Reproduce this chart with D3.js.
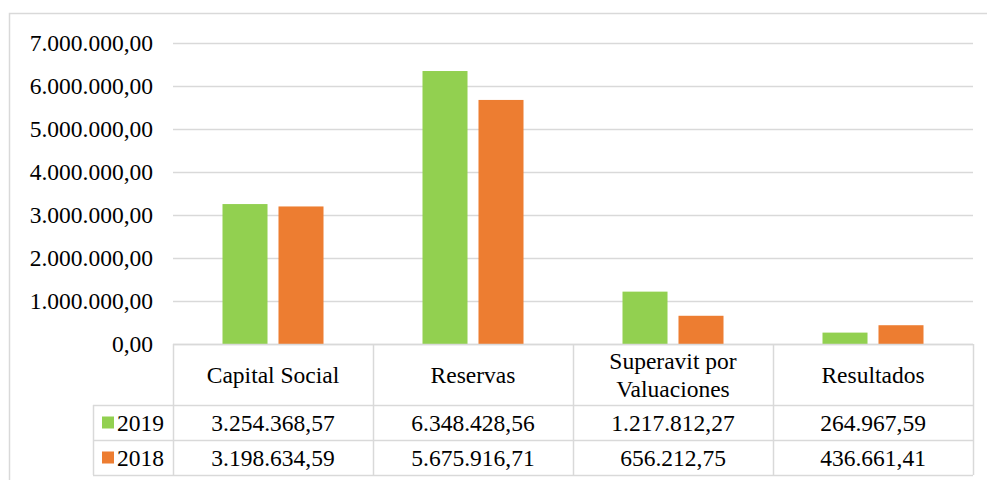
<!DOCTYPE html>
<html>
<head>
<meta charset="utf-8">
<script src="https://cdn.jsdelivr.net/npm/d3@7"></script>
<style>
  html, body { margin: 0; padding: 0; background: #fff; }
  svg { display: block; }
</style>
</head>
<body>
<div id="chart"></div>
<script>
// Patrimonio por rubro, 2019 vs 2018
const categories = ["Capital Social", "Reservas", "Superavit por Valuaciones", "Resultados"];
const categoryLines = [["Capital Social"], ["Reservas"], ["Superavit por", "Valuaciones"], ["Resultados"]];
const seriesNames = ["2019", "2018"];
const values2019 = [3254368.57, 6348428.56, 1217812.27, 264967.59];
const values2018 = [3198634.59, 5675916.71, 656212.75, 436661.41];
const yTicks = [0, 1000000, 2000000, 3000000, 4000000, 5000000, 6000000, 7000000];
const colors = ["#92D050", "#ED7D31"];

const W = 987, H = 480;
const fontSize = 23.5;
const fontFamily = "'Liberation Serif', 'Times New Roman', Times, serif";
const gridColor = "#D9D9D9";

// Spanish number format: "." thousands, "," decimals
const esLocale = d3.formatLocale({ decimal: ",", thousands: ".", grouping: [3], currency: ["", ""] });
const fmt = esLocale.format(",.2f");

const svg = d3.select("#chart").append("svg").attr("width", W).attr("height", H);

function label(sel) {
  return sel.style("font-family", fontFamily).style("font-size", fontSize + "px").style("fill", "#000");
}

// chart frame
svg.append("rect")
  .attr("x", 9.5).attr("y", 13.5).attr("width", W).attr("height", H)
  .attr("fill", "none").attr("stroke", gridColor).attr("stroke-width", 1.5);

const plot = { left: 173, right: 973, top: 43, bottom: 344 };
const x = d3.scaleBand().domain(categories).range([plot.left, plot.right]);
const y = d3.scaleLinear().domain([0, 7000000]).range([plot.bottom, plot.top]);
const inner = d3.scaleBand().domain(seriesNames).range([0, x.bandwidth()]).paddingInner(0.196).paddingOuter(0.884);

// gridlines
svg.append("g").selectAll("line").data(yTicks).join("line")
  .attr("x1", plot.left).attr("x2", plot.right)
  .attr("y1", d => Math.round(y(d)) + 0.5).attr("y2", d => Math.round(y(d)) + 0.5)
  .attr("stroke", gridColor).attr("stroke-width", 1.3);

// y axis labels
const yAxis = d3.axisLeft(y).tickValues(yTicks).tickFormat(fmt).tickSize(0).tickPadding(0);
const yg = svg.append("g").attr("transform", `translate(${plot.left - 20},0)`).call(yAxis);
yg.select(".domain").remove();
yg.attr("font-family", null).attr("font-size", null);
label(yg.selectAll("text"));

// bars
const seriesData = [values2019, values2018];
seriesData.forEach((vals, si) => {
  svg.append("g").selectAll("rect").data(categories).join("rect")
    .attr("x", (c) => x(c) + inner(seriesNames[si]))
    .attr("width", inner.bandwidth())
    .attr("y", (c, i) => y(vals[i]))
    .attr("height", (c, i) => y(0) - y(vals[i]))
    .attr("fill", colors[si]);
});

// data table
const rowTop = [plot.bottom, 405, 440, 475];
const legendLeft = 93;
const tbl = svg.append("g").attr("stroke", gridColor).attr("stroke-width", 1.5).attr("fill", "none");
tbl.append("line").attr("x1", plot.left).attr("x2", plot.right).attr("y1", rowTop[0] + 0.5).attr("y2", rowTop[0] + 0.5);
[rowTop[1], rowTop[2], rowTop[3]].forEach(yy => {
  tbl.append("line").attr("x1", legendLeft).attr("x2", plot.right).attr("y1", yy + 0.5).attr("y2", yy + 0.5);
});
categories.forEach(c => {
  tbl.append("line").attr("x1", x(c) + 0.5).attr("x2", x(c) + 0.5).attr("y1", rowTop[0]).attr("y2", rowTop[3]);
});
tbl.append("line").attr("x1", plot.right + 0.5).attr("x2", plot.right + 0.5).attr("y1", rowTop[0]).attr("y2", rowTop[3]);
tbl.append("line").attr("x1", legendLeft + 0.5).attr("x2", legendLeft + 0.5).attr("y1", rowTop[1]).attr("y2", rowTop[3]);

// header (category names), wrapped names as separate lines
const headerMid = (rowTop[0] + rowTop[1]) / 2;
const lineH = 28;
categories.forEach((c, i) => {
  const lines = categoryLines[i];
  lines.forEach((ln, li) => {
    label(svg.append("text")
      .attr("x", x(c) + x.bandwidth() / 2)
      .attr("y", headerMid + (li - (lines.length - 1) / 2) * lineH)
      .attr("dy", "0.35em")
      .attr("text-anchor", "middle"))
      .text(ln);
  });
});

// value rows with legend keys
seriesData.forEach((vals, si) => {
  const mid = (rowTop[si + 1] + rowTop[si + 2]) / 2;
  svg.append("rect")
    .attr("x", 102).attr("y", mid - 6).attr("width", 12).attr("height", 12)
    .attr("fill", colors[si]);
  label(svg.append("text")
    .attr("x", 117).attr("y", mid).attr("dy", "0.35em"))
    .text(seriesNames[si]);
  categories.forEach((c, i) => {
    label(svg.append("text")
      .attr("x", x(c) + x.bandwidth() / 2).attr("y", mid).attr("dy", "0.35em")
      .attr("text-anchor", "middle"))
      .text(fmt(vals[i]));
  });
});
</script>
</body>
</html>
